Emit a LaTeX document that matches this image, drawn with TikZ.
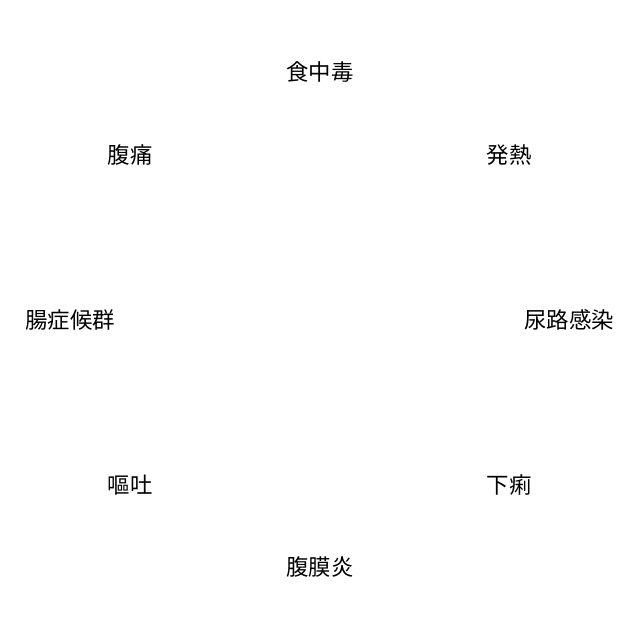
\documentclass[tikz,border=0pt]{standalone}
\usepackage{fontspec}
\newfontfamily\jpfont{Noto Sans CJK JP}
\begin{document}
\begin{tikzpicture}[x=1pt,y=-1pt,
  lbl/.style={inner sep=0pt, font=\jpfont\fontsize{22.4}{26}\selectfont, text=black}]
\useasboundingbox[fill=white] (0,0) rectangle (640,640);
\node[lbl] (shokuchudoku) at (320,72) {食中毒};
\node[lbl] (fukutsu) at (130,155) {腹痛};
\node[lbl] (hatsunetsu) at (509,155) {発熱};
\node[lbl] (chosho) at (70,320) {腸症候群};
\node[lbl] (nyoro) at (569,320) {尿路感染};
\node[lbl] (oto) at (130,485) {嘔吐};
\node[lbl] (geri) at (509,485) {下痢};
\node[lbl] (fukumaku) at (320,567) {腹膜炎};
\end{tikzpicture}
\end{document}
